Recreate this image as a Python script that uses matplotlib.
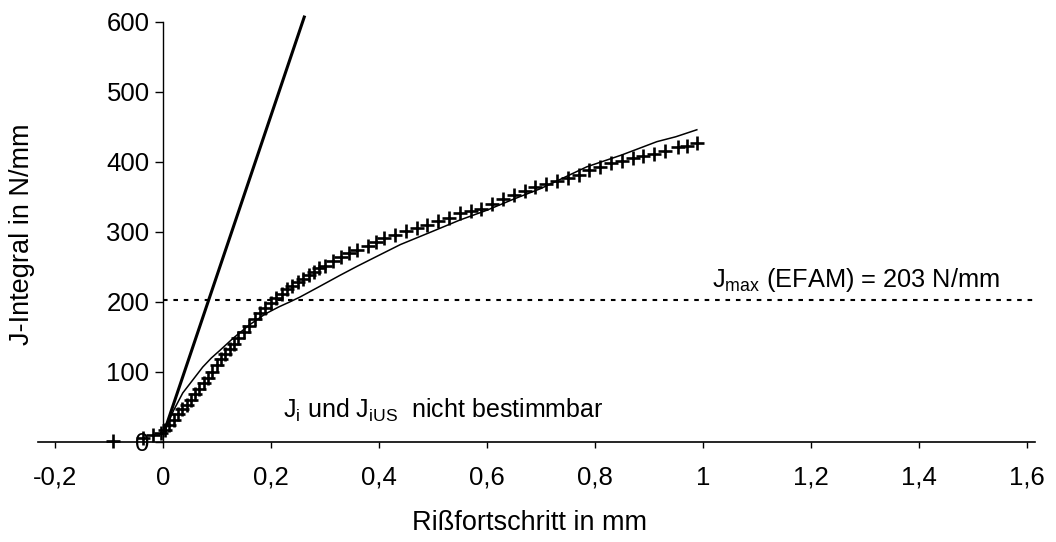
import matplotlib
matplotlib.use("Agg")
import matplotlib.pyplot as plt

plt.rcParams['font.family'] = ['Liberation Sans', 'DejaVu Sans']

# Measured J-R points (crack growth in mm, J in N/mm)
mess_da = [-0.093, -0.037, -0.018, -0.004, 0.005, 0.012, 0.02, 0.028, 0.036, 0.044,
           0.052, 0.06, 0.068, 0.076, 0.084, 0.092, 0.1, 0.108, 0.116, 0.124,
           0.132, 0.14, 0.15, 0.16, 0.17, 0.18, 0.19, 0.2, 0.21, 0.22,
           0.23, 0.24, 0.25, 0.26, 0.27, 0.28, 0.29, 0.3, 0.315, 0.33,
           0.345, 0.36, 0.38, 0.395, 0.41, 0.43, 0.45, 0.47, 0.49, 0.51,
           0.53, 0.55, 0.57, 0.59, 0.61, 0.63, 0.65, 0.67, 0.69, 0.71,
           0.73, 0.75, 0.77, 0.79, 0.81, 0.83, 0.85, 0.87, 0.89, 0.91,
           0.93, 0.955, 0.97, 0.99]
mess_J = [2, 6, 10, 13, 17, 24, 31, 40, 47, 53,
          60, 68, 76, 84, 92, 100, 110, 118, 126, 133,
          140, 148, 157, 166, 175, 184, 192, 199, 205, 211,
          218, 223, 228, 233, 238, 243, 248, 252, 258, 264,
          270, 274, 280, 286, 291, 296, 301, 305, 310, 315,
          320, 327, 330, 333, 340, 347, 353, 359, 364, 369,
          373, 377, 382, 388, 393, 398, 401, 405, 408, 412,
          416, 421, 423, 427]

# Fitted resistance curve
kurve_da = [0.005, 0.02, 0.037, 0.056, 0.074, 0.09, 0.106, 0.13, 0.16, 0.19,
            0.215, 0.235, 0.254, 0.29, 0.328, 0.36, 0.396, 0.44, 0.5, 0.55,
            0.6, 0.65, 0.7, 0.785, 0.85, 0.915, 0.95, 0.989]
kurve_J = [18, 45, 70, 89, 107, 120, 131, 148, 167, 183,
           193, 200, 207, 222, 238, 251, 265, 282, 301, 317,
           331, 347, 362, 393, 410, 429, 436, 446]

# Blunting line
blunt_da = [0.005, 0.262]
blunt_J = [20, 607]

# J_max limit
J_max = 203

x_ticks = [-0.2, 0, 0.2, 0.4, 0.6, 0.8, 1.0, 1.2, 1.4, 1.6]
x_ticklabels = ['-0,2', '0', '0,2', '0,4', '0,6', '0,8', '1', '1,2', '1,4', '1,6']
y_ticks = [0, 100, 200, 300, 400, 500, 600]

fig = plt.figure(figsize=(10.56, 5.42), dpi=100)
ax = fig.add_axes([0.036, 0.1716, 0.944, 0.8034])
ax.set_xlim(-0.231, 1.615)
ax.set_ylim(-10, 612)

ax.plot(blunt_da, blunt_J, color='black', lw=2.2, clip_on=False, zorder=3)
ax.plot(kurve_da, kurve_J, color='black', lw=1.1, zorder=3)
ax.plot(mess_da, mess_J, linestyle='none', marker='+', markersize=9.5,
        markeredgewidth=1.9, color='black', clip_on=False, zorder=4)
ax.plot([0, 1.615], [J_max, J_max], color='black', lw=1.5,
        linestyle=(0, (2.2, 2.8)), zorder=2)

ax.text(1.017, J_max + 9, r'J$_{\mathregular{max}}$ (EFAM) = 203 N/mm',
        fontsize=18.3, ha='left', va='bottom')
ax.text(0.222, 45, r'J$_{\mathregular{i}}$ und J$_{\mathregular{iUS}}$  nicht bestimmbar',
        fontsize=18, ha='left', va='center')

for s in ['top', 'right']:
    ax.spines[s].set_visible(False)
ax.spines['left'].set_position(('data', 0))
ax.spines['bottom'].set_position(('data', 0))
ax.spines['left'].set_bounds(0, 600)
ax.spines['left'].set_linewidth(1.0)
ax.spines['bottom'].set_linewidth(1.2)

ax.set_xticks(x_ticks)
ax.set_xticklabels(x_ticklabels)
ax.set_yticks(y_ticks)
ax.tick_params(axis='x', direction='out', length=4, width=1, pad=13, labelsize=18.5)
ax.tick_params(axis='y', direction='out', length=6, width=1, pad=3.5, labelsize=18.5)

fig.text(530 / 1056, 1 - 523 / 542, 'Rißfortschritt in mm', fontsize=19.5,
         ha='center', va='center')
fig.text(22 / 1056, 1 - 234 / 542, 'J-Integral in N/mm', fontsize=19.5,
         ha='center', va='center', rotation=90)

fig.savefig('out.png', dpi=100)
